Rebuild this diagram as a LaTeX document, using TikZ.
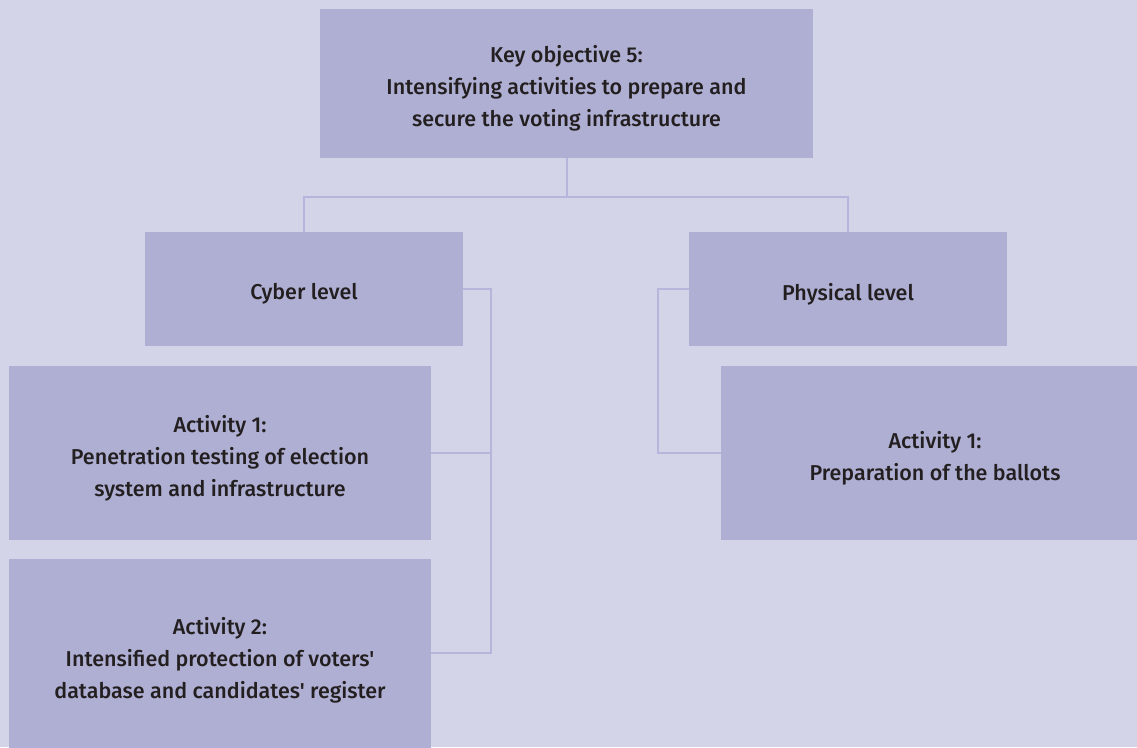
\documentclass[tikz,border=0pt]{standalone}
\usepackage{fontspec}
\newfontfamily\boxfont{Fira Sans}[UprightFont=* Medium]
\definecolor{pagebg}{HTML}{D3D4E7}
\definecolor{boxfill}{HTML}{AFAFD3}
\definecolor{linkcol}{HTML}{B6B5DB}
\definecolor{inkcol}{HTML}{231F20}
\begin{document}
\begin{tikzpicture}[x=1pt,y=-1pt,
  box/.style={fill=boxfill,draw=none,inner sep=0pt},
  txt/.style={inner sep=0pt,align=center,text=inkcol,
    font=\boxfont\fontsize{21.5}{32}\selectfont},
  link/.style={draw=linkcol,line width=2pt}]
  \fill[pagebg] (0,0) rectangle (1137,747);
  \useasboundingbox (0,0) rectangle (1137,747);
  \clip (0,0) rectangle (1137,747);
  % boxes
  \node[box,minimum width=493,minimum height=149] (top) at (566.5,83.5) {};
  \node[box,minimum width=318,minimum height=114] (cyber) at (304,289) {};
  \node[box,minimum width=318,minimum height=114] (phys) at (848,289) {};
  \node[box,minimum width=422,minimum height=174] (act1) at (220,453) {};
  \node[box,minimum width=422,minimum height=198] (act2) at (220,658) {};
  \node[box,minimum width=428,minimum height=174] (pact) at (935,453) {};
  % box texts
  \node[txt] (topT) at ([yshift=-5pt]top.center)
    {Key objective 5:\\Intensifying activities to prepare and\\secure the voting infrastructure};
  \node[txt] (cyberT) at ([yshift=-5pt]cyber.center) {Cyber level};
  \node[txt] (physT) at ([yshift=-5pt]phys.center) {Physical level};
  \node[txt] (act1T) at ([yshift=-5pt]act1.center)
    {Activity 1:\\Penetration testing of election\\system and infrastructure};
  \node[txt] (act2T) at ([yshift=-2pt]act2.center)
    {Activity 2:\\Intensified protection of voters'\\database and candidates' register};
  \node[txt] (pactT) at ([yshift=-5pt]pact.center)
    {Activity 1:\\Preparation of the ballots};
  % connectors
  \coordinate (bus) at (566.5,197);
  \draw[link] (top.south) -- (bus);
  \draw[link] (cyber.north) |- (bus) -| (phys.north);
  \coordinate (cbus) at (491,289);
  \draw[link] (cyber.east) -- (cbus) |- (act2.east |- 0,653);
  \draw[link] (act1.east) -- (act1.east -| cbus);
  \coordinate (pbus) at (658,289);
  \draw[link] (phys.west) -- (pbus) |- (pact.west);
\end{tikzpicture}
\end{document}
